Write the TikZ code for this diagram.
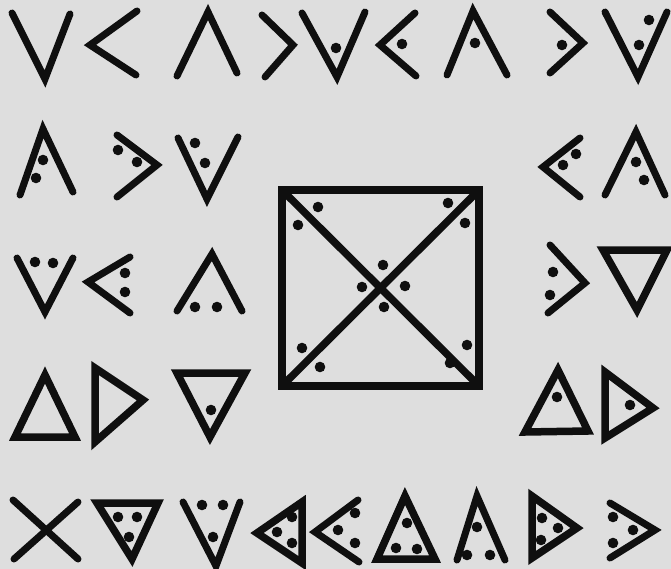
\documentclass[tikz,border=0pt]{standalone}
\begin{document}
\begin{tikzpicture}[x=1pt,y=-1pt,
  ink/.style={draw=black!94,line width=7pt,line cap=round,line join=miter,miter limit=4},
  tri/.style={ink,line width=7.5pt},
  boxline/.style={draw=black!94,line width=7.5pt,line join=miter},
  dotmark/.style={fill=black!94}]
\fill[black!13] (0,0) rectangle (671,569);
\useasboundingbox (0,0) rectangle (671,569);
\def\dt(#1){\fill[dotmark] (#1) circle (5.3pt);}
% ---- row 1
\draw[ink] (12,13) -- (45,79) -- (70,14);
\draw[ink] (137,11) -- (90,45) -- (136,75);
\draw[ink] (177,76) -- (208,12) -- (237,73);
\draw[ink] (262,15) -- (293,45) -- (265,77);
\draw[ink] (302,13) -- (337,77) -- (365,12); \dt(336,48)
\draw[ink] (415,13) -- (380,45) -- (416,76); \dt(402,44)
\draw[ink] (447,75) -- (473,11) -- (507,75); \dt(475,43)
\draw[ink] (550,12) -- (583,43) -- (550,73); \dt(562,45)
\draw[ink] (605,12) -- (638,77) -- (667,12); \dt(649,20) \dt(639,45)
% ---- row 2
\draw[ink] (20,195) -- (43,129) -- (73,192); \dt(43,160) \dt(36,178)
\draw[ink] (117,135) -- (157,165) -- (117,197); \dt(118,150) \dt(137,162)
\draw[ink] (178,138) -- (207,199) -- (238,137); \dt(195,143) \dt(205,163)
\draw[ink] (580,138) -- (543,167) -- (580,197); \dt(576,154) \dt(563,165)
\draw[ink] (605,195) -- (636,132) -- (665,195); \dt(636,162) \dt(644,180)
% ---- row 3
\draw[ink] (17,258) -- (45,312) -- (73,258); \dt(35,262) \dt(53,263)
\draw[ink] (130,257) -- (88,282) -- (130,313); \dt(125,273) \dt(125,292)
\draw[ink] (177,311) -- (212,254) -- (242,311); \dt(195,307) \dt(217,307)
\draw[ink] (550,245) -- (585,283) -- (548,313); \dt(553,272) \dt(550,295)
\draw[tri] (603,250) -- (667,250) -- (637,310) -- cycle;
% ---- central box
\draw[boxline] (282,190) rectangle (479,386);
\draw[boxline] (282,190) -- (479,386);
\draw[boxline] (479,190) -- (282,386);
\dt(318,207) \dt(298,225) \dt(448,203) \dt(465,223)
\dt(383,265) \dt(362,287) \dt(405,286) \dt(384,307)
\dt(302,348) \dt(320,367) \dt(467,345) \dt(450,363)
% ---- row 4
\draw[tri] (45,375) -- (75,437) -- (15,437) -- cycle;
\draw[tri] (95,368) -- (143,400) -- (95,442) -- cycle;
\draw[tri] (177,373) -- (245,373) -- (210,437) -- cycle; \dt(211,410)
\draw[tri] (558,370) -- (588,431) -- (525,432) -- cycle; \dt(557,397)
\draw[tri] (605,372) -- (653,408) -- (605,438) -- cycle; \dt(630,405)
% ---- row 5
\draw[ink] (13,500) -- (78,559);
\draw[ink] (78,502) -- (14,559);
\draw[tri] (97,503) -- (158,503) -- (132,559) -- cycle; \dt(118,517) \dt(137,517) \dt(129,537)
\draw[ink] (183,502) -- (216,566) -- (240,502); \dt(202,505) \dt(223,505) \dt(213,537)
\draw[tri] (302,502) -- (257,533) -- (302,563) -- cycle; \dt(292,517) \dt(277,532) \dt(292,543)
\draw[ink] (358,500) -- (315,532) -- (359,562); \dt(355,513) \dt(338,530) \dt(355,543)
\draw[tri] (405,496) -- (435,559) -- (377,559) -- cycle; \dt(407,523) \dt(396,548) \dt(417,549)
\draw[ink] (457,560) -- (477,496) -- (505,560); \dt(477,527) \dt(467,555) \dt(490,555)
\draw[tri] (532,496) -- (577,528) -- (532,558) -- cycle; \dt(542,518) \dt(558,528) \dt(541,540)
\draw[ink] (610,503) -- (655,530) -- (610,558); \dt(613,517) \dt(633,530) \dt(613,543)
\end{tikzpicture}
\end{document}
